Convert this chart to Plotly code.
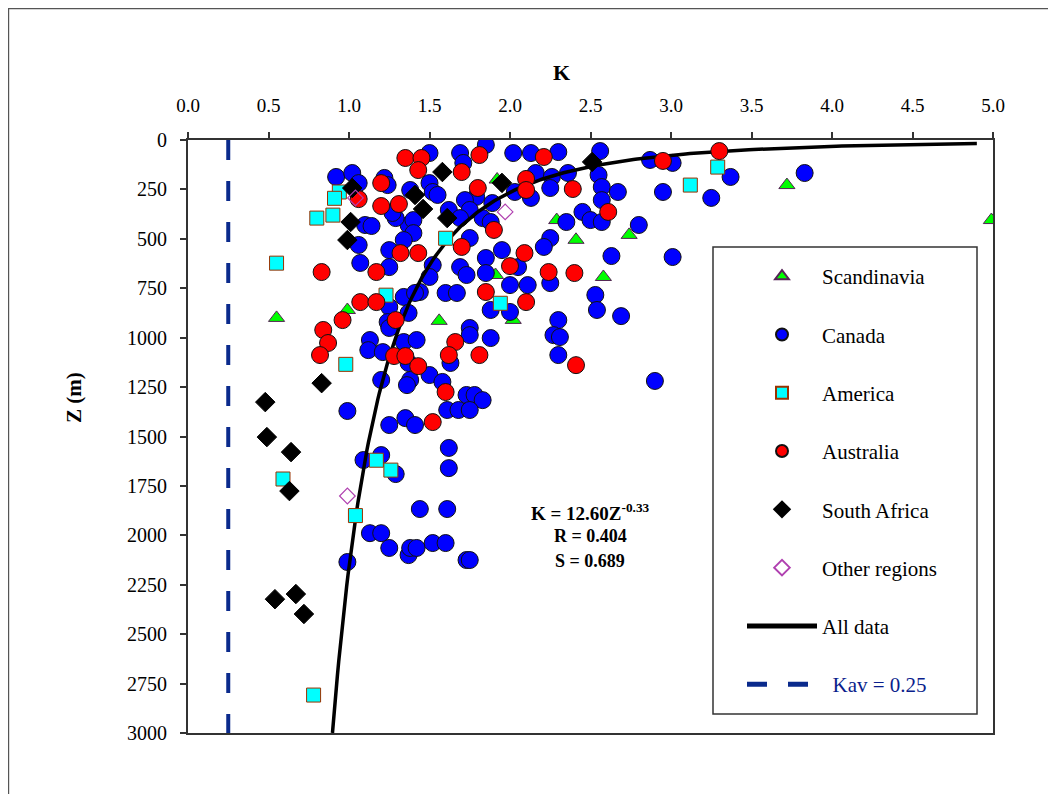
import numpy as np
import plotly.graph_objects as go

# ---------------- data (K, Z in m) ----------------
scand_k = [0.55, 0.99, 1.56, 2.02, 1.92, 2.29, 2.41, 2.74, 2.58, 1.91, 3.72, 4.99]
scand_z = [900, 860, 915, 910, 200, 405, 505, 480, 693, 683, 228, 405]

canada_k = [0.92, 1.02, 1.06, 1.22, 1.24, 1.38, 1.50, 1.69, 1.85, 2.02, 2.13, 2.30, 2.56, 1.71,
            2.16, 2.26, 2.36, 2.55, 2.87, 3.01, 3.37, 3.83, 1.50, 1.52, 1.55, 2.57, 2.67, 2.95,
            3.25, 2.57, 2.25, 2.13, 2.03, 1.79, 1.89, 1.72, 1.75, 1.62, 1.69, 1.83, 1.88, 1.37,
            2.35, 2.45, 2.50, 2.57, 2.80, 1.10, 1.14, 1.40, 1.29, 1.27, 1.40, 1.34, 1.75, 2.25,
            2.21, 1.95, 1.85, 1.52, 1.69, 1.73, 1.85, 2.05, 2.63, 3.01, 2.25, 1.50, 1.44, 1.60,
            1.67, 2.00, 2.11, 2.53, 1.06, 1.25, 1.07, 1.25, 1.34, 1.41, 2.54, 2.69, 1.25, 1.37,
            1.88, 2.00, 2.30, 1.75, 1.24, 2.27, 2.31, 2.30, 1.13, 1.12, 1.25, 1.21, 1.34, 1.42,
            1.37, 1.38, 1.36, 1.20, 1.75, 1.88, 1.63, 1.50, 1.58, 1.73, 1.78, 1.83, 2.90, 0.99,
            1.35, 1.25, 1.41, 1.61, 1.68, 1.75, 1.09, 1.20, 1.29, 1.62, 1.62, 1.44, 1.61, 0.99,
            1.13, 1.20, 1.25, 1.37, 1.38, 1.42, 1.52, 1.60, 1.73, 1.75]
canada_z = [187, 167, 218, 192, 228, 253, 66, 66, 25, 66, 66, 61, 56, 116,
            167, 187, 167, 177, 101, 116, 187, 167, 218, 263, 278, 238, 263, 263,
            293, 304, 243, 293, 263, 288, 319, 304, 354, 354, 395, 395, 415, 430,
            415, 364, 405, 415, 430, 430, 435, 405, 395, 369, 471, 506, 496, 496,
            541, 557, 597, 633, 643, 683, 673, 643, 587, 592, 724, 693, 769, 774,
            774, 734, 734, 784, 531, 557, 622, 643, 794, 774, 860, 891, 845, 875,
            860, 870, 911, 951, 921, 987, 997, 1088, 1012, 1063, 951, 1073, 1022, 1012,
            1128, 1214, 1240, 1214, 987, 1002, 1128, 1189, 1224, 1290, 1290, 1316, 1219, 1371,
            1407, 1442, 1442, 1366, 1366, 1366, 1619, 1594, 1690, 1558, 1660, 1867, 1867, 2135,
            1989, 1989, 2064, 2100, 2064, 2064, 2039, 2039, 2125, 2125]

america_k = [0.94, 0.91, 0.90, 0.80, 0.55, 1.23, 1.60, 1.94, 3.12, 3.29, 0.98, 1.17, 1.26, 0.59, 1.04, 0.78]
america_z = [263, 295, 380, 395, 623, 785, 497, 826, 228, 137, 1135, 1620, 1670, 1715, 1900, 2808]

austr_k = [1.35, 1.45, 1.43, 1.20, 1.06, 1.20, 1.31, 1.32, 1.43, 0.83, 1.17, 1.07, 1.17, 0.96,
           1.29, 0.84, 0.87, 0.82, 1.28, 1.35, 1.43, 1.70, 1.81, 2.21, 2.10, 2.10, 1.80, 2.39,
           1.90, 1.70, 2.61, 2.09, 2.00, 2.24, 2.40, 1.85, 2.10, 2.95, 3.30, 1.66, 1.62, 1.81,
           1.60, 1.52, 2.41]
austr_z = [91, 91, 152, 218, 299, 334, 324, 572, 572, 668, 668, 820, 820, 911,
           911, 961, 1027, 1088, 1093, 1093, 1144, 162, 76, 86, 197, 253, 243, 248,
           455, 541, 364, 572, 638, 668, 673, 769, 820, 106, 56, 1022, 1088, 1088,
           1275, 1427, 1139]

safr_k = [1.02, 1.01, 0.99, 1.41, 1.58, 1.46, 1.61, 1.95, 2.51, 0.83, 0.48, 0.49, 0.64, 0.63, 0.54, 0.67, 0.72]
safr_z = [243, 415, 506, 278, 162, 349, 395, 217, 111, 1230, 1326, 1503, 1579, 1776, 2323, 2297, 2398]

other_k = [1.04, 1.97, 0.99]
other_z = [293, 364, 1801]

# fitted relation shown on the chart: K = 12.60 Z^-0.33
FIT_A = 12.60
FIT_B = -0.33
fit_z = np.geomspace(17.5, 3000, 200)
fit_k = FIT_A * fit_z ** FIT_B

KAV = 0.25
kav_z = [0, 3000]

x_ticks = [0.0, 0.5, 1.0, 1.5, 2.0, 2.5, 3.0, 3.5, 4.0, 4.5, 5.0]
y_ticks = [0, 250, 500, 750, 1000, 1250, 1500, 1750, 2000, 2250, 2500, 2750, 3000]

FONT = "Liberation Serif"

fig = go.Figure()

def pts(name, k, z, rank, **marker):
    fig.add_trace(go.Scatter(x=k, y=z, mode="markers", name=name, legendrank=rank,
                             legendgroup=name, marker=marker))

pts("Scandinavia", scand_k, scand_z, 1, symbol="triangle-up", size=14, color="#00FF00",
    line=dict(color="#552255", width=1))
pts("Canada", canada_k, canada_z, 2, symbol="circle", size=17, color="#0000FF",
    line=dict(color="#111111", width=1))
fig.add_trace(go.Scatter(x=fit_k, y=fit_z, mode="lines", name="All data", legendrank=7,
                         legendgroup="All data", line=dict(color="black", width=3.5)))
pts("America", america_k, america_z, 3, symbol="square", size=14, color="#00FFFF",
    line=dict(color="#993300", width=1))
pts("Australia", austr_k, austr_z, 4, symbol="circle", size=17, color="#FF0000",
    line=dict(color="#111111", width=1))
pts("South Africa", safr_k, safr_z, 5, symbol="diamond", size=15, color="#000000",
    line=dict(color="#000000", width=1))
pts("Other regions", other_k, other_z, 6, symbol="diamond-open", size=12, color="#B040B0",
    line=dict(color="#B040B0", width=1.2))
fig.add_trace(go.Scatter(x=[KAV, KAV], y=kav_z, mode="lines",
                         name="&nbsp;&nbsp;<span style='color:#0A1E8C'>Kav = 0.25</span>", legendrank=8,
                         legendgroup="Kav", line=dict(color="#0A2A8C", width=4, dash="20px,21px")))

# the page has an 8px body margin, so figure coords = screen coords - 8
OFF = 8
W, H = 1056 - OFF, 794 - OFF
L, R, T, B = 188, 993, 140, 733          # plot area in screen pixels
pw, ph = R - L, B - T

def px(x):
    return (x - L) / pw

def py(y):
    return (B - y) / ph

fig.update_layout(
    width=W, height=H,
    margin=dict(l=L - OFF, r=W - (R - OFF), t=T - OFF, b=H - (B - OFF), pad=0),
    paper_bgcolor="white", plot_bgcolor="white",
    font=dict(family=FONT, size=17, color="black"),
    showlegend=True,
    legend=dict(x=px(742), y=py(256), xanchor="left", yanchor="top",
                bgcolor="rgba(0,0,0,0)", borderwidth=0,
                font=dict(family=FONT, size=21, color="black"),
                tracegroupgap=28, itemwidth=70, itemsizing="constant"),
    xaxis=dict(side="top", range=[0, 5], tickvals=x_ticks, ticktext=[f"{v:.1f}" for v in x_ticks],
               showgrid=False, zeroline=False, showline=True, mirror=True,
               linecolor="#333333", linewidth=2, ticks="outside", ticklen=6,
               tickcolor="#333333", tickwidth=1.5, ticklabelstandoff=12,
               tickfont=dict(family=FONT, size=19)),
    yaxis=dict(range=[3000, 0], tickvals=y_ticks, ticktext=[str(v) for v in y_ticks],
               showgrid=False, zeroline=False, showline=True, mirror=True,
               linecolor="#333333", linewidth=2, ticks="outside", ticklen=6,
               tickcolor="#333333", tickwidth=1.5, ticklabelstandoff=9,
               tickfont=dict(family=FONT, size=20)),
    shapes=[
        dict(type="rect", xref="paper", yref="paper", x0=px(713), x1=px(977), y0=py(714), y1=py(247),
             line=dict(color="#333333", width=1.5), fillcolor="rgba(0,0,0,0)", layer="below"),
        dict(type="rect", xref="paper", yref="paper", x0=px(8.6), x1=px(1100), y0=py(830), y1=py(8.6),
             line=dict(color="#555555", width=1.2), fillcolor="rgba(0,0,0,0)", layer="below"),
    ],
    annotations=[
        dict(text="<b>K</b>", xref="paper", yref="paper", x=px(561), y=py(73),
             showarrow=False, font=dict(family=FONT, size=22), xanchor="center", yanchor="middle"),
        dict(text="<b>Z (m)</b>", xref="paper", yref="paper", x=px(74), y=py(398), textangle=-90,
             showarrow=False, font=dict(family=FONT, size=21), xanchor="center", yanchor="middle"),
        dict(text="<b>K = 12.60Z<sup>-0.33</sup></b>", xref="paper", yref="paper", x=px(590), y=py(512),
             showarrow=False, font=dict(family=FONT, size=19), xanchor="center", yanchor="middle"),
        dict(text="<b>R = 0.404</b>", xref="paper", yref="paper", x=px(590), y=py(536),
             showarrow=False, font=dict(family=FONT, size=18), xanchor="center", yanchor="middle"),
        dict(text="<b>S = 0.689</b>", xref="paper", yref="paper", x=px(590), y=py(561),
             showarrow=False, font=dict(family=FONT, size=18), xanchor="center", yanchor="middle"),
    ],
)

fig.write_html("out.html")
